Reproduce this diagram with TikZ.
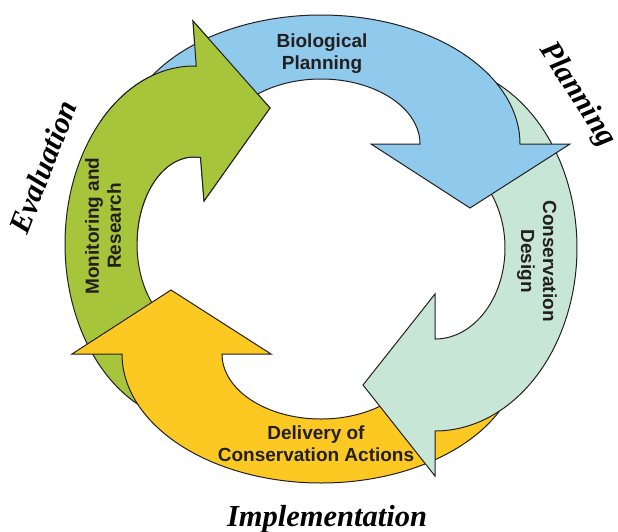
\documentclass[tikz,border=0pt]{standalone}
\usepackage{fontspec}
\newfontfamily\lsans{Liberation Sans}
\newfontfamily\lserif{Liberation Serif}
\definecolor{cblue}{HTML}{8FC9EC}
\definecolor{cgreen}{HTML}{A6C53B}
\definecolor{clgreen}{HTML}{C8E6D5}
\definecolor{cyellow}{HTML}{FCC923}
\definecolor{cink}{HTML}{231F20}
\tikzset{
  arrowshape/.style={draw=cink, line width=1pt, line join=miter},
  steplabel/.style={text=cink, inner sep=0pt, align=center, font=\lsans\bfseries\fontsize{19}{22}\selectfont},
  phaselabel/.style={text=black, inner sep=0pt, font=\lserif\bfseries\itshape\fontsize{30.5}{34}\selectfont}
}
\def\BlueArrow{plot[domain=-160:0,samples=90] ({321+199*cos(\x)},{144+129*sin(\x)}) -- (570,144) -- (470,208) -- (371,144) -- plot[domain=0:-160,samples=90] ({321+99*cos(\x)},{144+65*sin(\x)}) -- cycle}
\def\GreenArrow{plot[domain=100:271,samples=90] ({194+129*cos(\x)},{244+178*sin(\x)}) -- (193,21) -- (270,108) -- (204,201) -- plot[domain=276.6:100,samples=90] ({194+57*cos(\x)},{244+87*sin(\x)}) -- cycle}
\def\LGreenArrow{plot[domain=-95:90,samples=90] ({435+142*cos(\x)},{248+183*sin(\x)}) -- (435,476) -- (363,385) -- (435,294) -- plot[domain=90:-95,samples=90] ({435+70*cos(\x)},{248+91*sin(\x)}) -- cycle}
\def\YellowArrow{plot[domain=20:180,samples=90] ({321+199*cos(\x)},{354+129*sin(\x)}) -- (72,354) -- (171,290) -- (271,354) -- plot[domain=180:20,samples=90] ({321+99*cos(\x)},{354+65*sin(\x)}) -- cycle}
\begin{document}
\begin{tikzpicture}[x=1pt,y=-1pt]
\useasboundingbox (0,0) rectangle (618,531);
% arrows (cyclic overlap: green over blue is restored at the end)
\filldraw[arrowshape, fill=cgreen] \GreenArrow;
\filldraw[arrowshape, fill=cyellow] \YellowArrow;
\filldraw[arrowshape, fill=clgreen] \LGreenArrow;
\filldraw[arrowshape, fill=cblue] \BlueArrow;
\begin{scope}
  \clip (100,0) rectangle (300,240);
  \filldraw[arrowshape, fill=cgreen] \GreenArrow;
\end{scope}
% step labels
\node[steplabel] (bio) at (322,54) {Biological\\Planning};
\node[steplabel, rotate=-90] (cons) at (537,261) {Conservation\\Design};
\node[steplabel] (deliv) at (316,444) {Delivery of\\Conservation Actions};
\node[steplabel, rotate=90] (mon) at (103,226) {Monitoring and\\Research};
% phase labels
\node[phaselabel, rotate=-57] (plan) at (577,95) {Planning};
\node[phaselabel] (impl) at (327,519.5) {Implementation};
\node[phaselabel, rotate=69] (eval) at (43,167) {Evaluation};
\end{tikzpicture}
\end{document}
